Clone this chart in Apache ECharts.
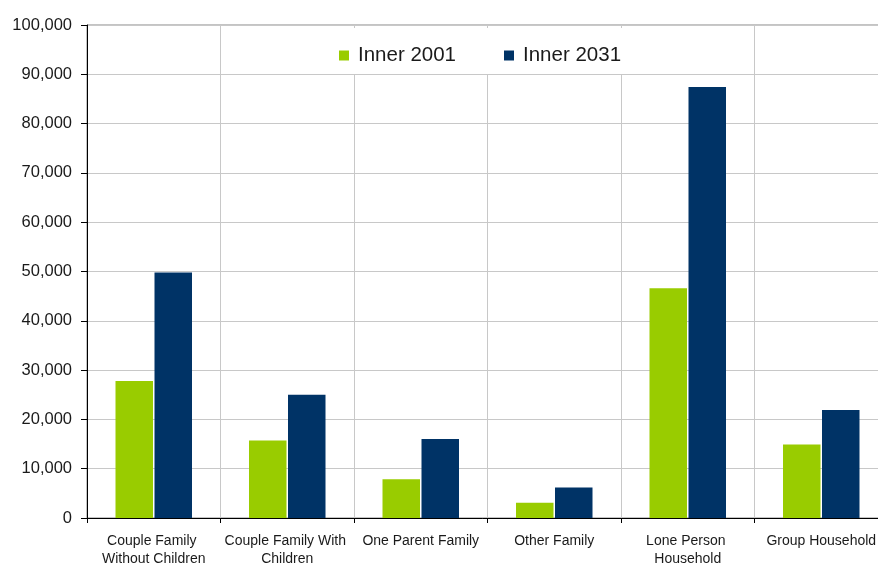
<!DOCTYPE html>
<html>
<head>
<meta charset="utf-8">
<script src="https://cdn.jsdelivr.net/npm/echarts@6/dist/echarts.min.js"></script>
<style>
  html, body { margin: 0; padding: 0; background: #fff; }
  #chart { width: 878px; height: 564px; }
</style>
</head>
<body>
<div id="chart"></div>
<script>
// Household types in the inner area, 2001 vs projected 2031
const categories = [
  'Couple Family Without Children',
  'Couple Family With Children',
  'One Parent Family',
  'Other Family',
  'Lone Person Household',
  'Group Household'
];
const seriesNames = ['Inner 2001', 'Inner 2031'];
const inner2001 = [27800, 15700, 7850, 3100, 46600, 14900];
const inner2031 = [49800, 25000, 16000, 6200, 87400, 21900];
const yTicks = { min: 0, max: 100000, interval: 10000 };

const FONT = '"Liberation Sans", Arial, sans-serif';
const chart = echarts.init(document.getElementById('chart'), null, { renderer: 'canvas' });

chart.setOption({
  animation: false,
  backgroundColor: '#ffffff',
  textStyle: { fontFamily: FONT },
  grid: {
    left: 87,
    top: 25,
    width: 801,
    height: 493,
    containLabel: false,
    outerBoundsMode: 'none',
    show: true,
    borderColor: '#888888',
    borderWidth: 1,
    backgroundColor: 'transparent'
  },
  legend: {
    data: seriesNames,
    left: 315,
    top: 28,
    orient: 'horizontal',
    backgroundColor: '#ffffff',
    padding: [17, 21, 8, 24],
    itemGap: 48,
    itemWidth: 10,
    itemHeight: 10,
    icon: 'rect',
    textStyle: { fontSize: 20.5, color: '#1a1a1a', fontFamily: FONT, padding: [0, 0, 0, 4] }
  },
  xAxis: {
    type: 'category',
    data: categories,
    boundaryGap: true,
    axisLine: { show: true, lineStyle: { color: '#000000', width: 1 } },
    axisTick: { show: true, length: 5, alignWithLabel: false, lineStyle: { color: '#000000' } },
    splitLine: { show: true, lineStyle: { color: '#c8c8c8', width: 1 } },
    axisLabel: {
      interval: 0,
      fontSize: 14,
      color: '#1a1a1a',
      fontFamily: FONT,
      margin: 14,
      lineHeight: 18,
      width: 126,
      overflow: 'break'
    }
  },
  yAxis: {
    type: 'value',
    min: yTicks.min,
    max: yTicks.max,
    interval: yTicks.interval,
    axisLine: { show: true, lineStyle: { color: '#000000', width: 1 } },
    axisTick: { show: true, length: 6, lineStyle: { color: '#000000' } },
    splitLine: { show: true, lineStyle: { color: '#c8c8c8', width: 1 } },
    axisLabel: {
      fontSize: 16.5,
      color: '#1a1a1a',
      fontFamily: FONT,
      margin: 15,
      formatter: v => v.toLocaleString('en-US')
    }
  },
  series: [
    {
      name: seriesNames[0],
      type: 'bar',
      data: inner2001,
      barWidth: 37.5,
      barGap: '4%',
      itemStyle: { color: '#99cc00' }
    },
    {
      name: seriesNames[1],
      type: 'bar',
      data: inner2031,
      barWidth: 37.5,
      barGap: '4%',
      itemStyle: { color: '#003366' }
    }
  ]
});
</script>
</body>
</html>
